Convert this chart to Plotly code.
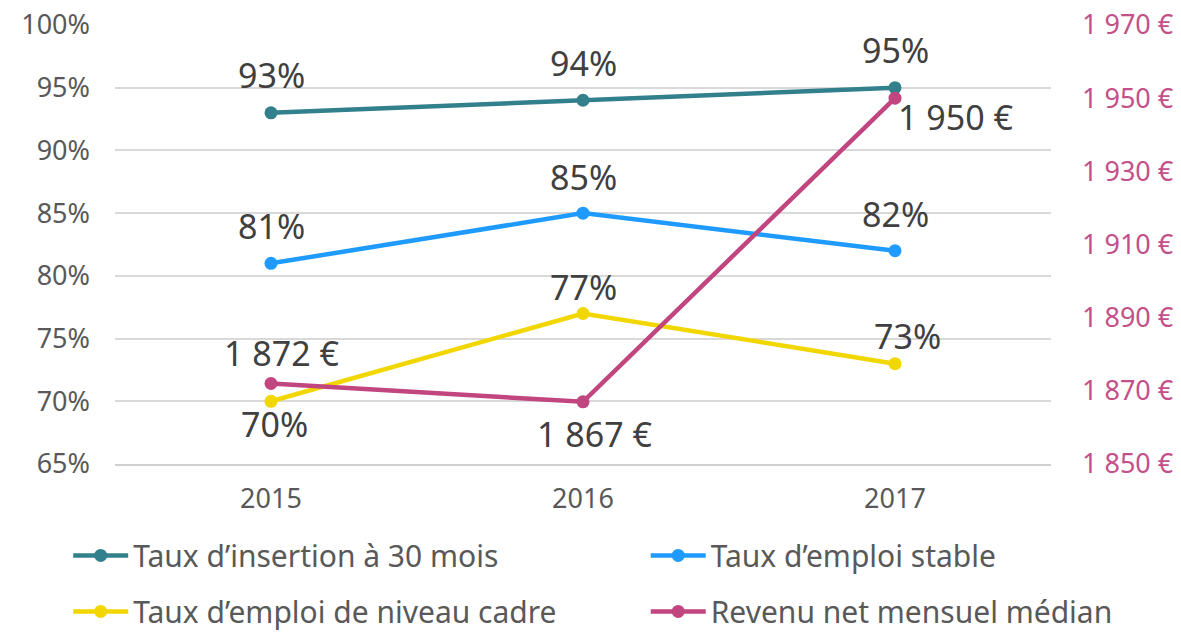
import plotly.graph_objects as go

years = ["2015", "2016", "2017"]
insertion = [0.93, 0.94, 0.95]
emploi_stable = [0.81, 0.85, 0.82]
emploi_cadre = [0.70, 0.77, 0.73]
revenu = [1872, 1867, 1950]

names = ["Taux d’insertion à 30 mois", "Taux d’emploi stable",
         "Taux d’emploi de niveau cadre", "Revenu net mensuel médian"]

right_ticks = [1850, 1870, 1890, 1910, 1930, 1950, 1970]

FONT = "Noto Sans"
C_TEAL = "#33808D"
C_BLUE = "#1F9BFF"
C_YELLOW = "#F2D600"
C_MAG = "#C1457F"


def eur(v):
    s = f"{v:,}".replace(",", "\u00a0")
    return s + "\u00a0€"


fig = go.Figure()

series = [
    (insertion, names[0], C_TEAL, "y", "legend"),
    (emploi_stable, names[1], C_BLUE, "y", "legend2"),
    (emploi_cadre, names[2], C_YELLOW, "y", "legend"),
    (revenu, names[3], C_MAG, "y2", "legend2"),
]
for i, (vals, nm, col, yax, lg) in enumerate(series):
    fig.add_trace(go.Scatter(
        x=years, y=vals, name=nm, mode="lines+markers",
        line=dict(color=col, width=4.5),
        marker=dict(color=col, size=13),
        yaxis=yax, legend=lg, legendgroup=f"g{i}",
        cliponaxis=False, showlegend=True,
    ))

# data labels (pixel offsets are styling)
label_shift = {
    0: [(0, 38), (0, 37), (0, 38)],
    1: [(0, 37), (0, 36), (0, 37)],
    2: [(3, -23), (0, 26), (12, 28)],
    3: [(10, 31), (11, -32), (60, -19)],
}
annotations = []
for i, (vals, nm, col, yax, lg) in enumerate(series):
    for j, v in enumerate(vals):
        txt = eur(v) if yax == "y2" else f"{round(v*100)}%"
        dx, dy = label_shift[i][j]
        annotations.append(dict(
            x=j, y=v, xref="x", yref=yax, text=txt, showarrow=False,
            xshift=dx, yshift=dy,
            font=dict(family=FONT, size=34, color="#404040"),
        ))

legend_common = dict(
    yanchor="top", orientation="v", y=-0.149,
    font=dict(family=FONT, size=30, color="#595959"), itemwidth=55,
    tracegroupgap=14, bgcolor="rgba(0,0,0,0)", maxheight=220,
)

fig.update_layout(
    width=1181, height=633,
    margin=dict(l=115, r=130, t=25, b=169, autoexpand=False),
    paper_bgcolor="white", plot_bgcolor="white",
    showlegend=True,
    annotations=annotations,
    xaxis=dict(
        type="category", showgrid=False, showline=True, linecolor="#D0D0D0",
        linewidth=1.5, ticks="", tickfont=dict(family=FONT, size=27, color="#595959"),
        ticklabelstandoff=10, range=[-0.5, 2.5], automargin=False,
    ),
    yaxis=dict(
        range=[0.65, 1.0], dtick=0.05, tickformat=".0%", showgrid=True,
        gridcolor="#D9D9D9", gridwidth=1.5, zeroline=False, showline=False,
        tickfont=dict(family=FONT, size=27, color="#595959"), ticks="",
        ticklabelstandoff=24, automargin=False, ticklabeloverflow="allow",
    ),
    yaxis2=dict(
        range=[1850, 1970], overlaying="y", side="right", showgrid=False,
        zeroline=False, tickvals=right_ticks, ticktext=[eur(t) for t in right_ticks],
        tickfont=dict(family=FONT, size=27, color="#C4508A"), ticks="",
        ticklabelstandoff=30, automargin=False, ticklabeloverflow="allow",
    ),
    legend=dict(x=-0.05, xanchor="left", **legend_common),
    legend2=dict(x=0.567, xanchor="left", **legend_common),
)

fig.write_html(
    "out.html",
    config={"displayModeBar": False},
    post_script="document.body.style.margin='0';document.body.style.overflow='hidden';",
)
